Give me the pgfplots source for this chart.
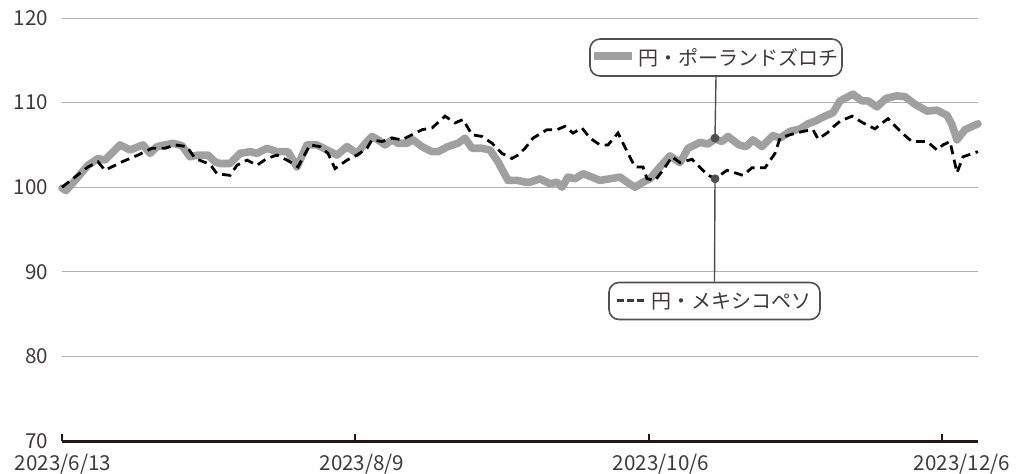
\documentclass[border=0pt]{standalone}
\usepackage{pgfplots}
\pgfplotsset{compat=1.18}
\usepackage{fontspec}
\setmainfont{Noto Sans CJK JP}
\definecolor{zgray}{RGB}{160,160,160}
\definecolor{txt}{RGB}{62,58,57}
\definecolor{gridc}{RGB}{175,175,175}
\definecolor{axc}{RGB}{35,24,21}
\definecolor{callc}{RGB}{80,80,80}
\pgfplotstableread{
x y
0 99.9
4 99.6
13 100.8
26 102.6
36 103.4
43 103.2
58 105.0
68 104.4
81 105.0
88 104.0
95 104.8
103 105.0
111 105.2
120 104.9
128 103.6
136 103.8
146 103.8
153 103.0
158 102.8
168 102.8
178 104.0
188 104.2
195 104.0
205 104.6
215 104.2
226 104.2
235 102.4
245 105.0
255 105.0
265 104.4
275 103.8
285 104.8
295 104.0
305 105.4
310 106.0
316 105.6
323 105.0
330 105.6
336 105.2
345 105.2
351 105.6
360 104.8
370 104.2
376 104.2
386 104.8
396 105.2
403 105.8
410 104.6
420 104.6
428 104.4
436 103.0
446 100.8
456 100.8
463 100.6
468 100.6
478 101.0
488 100.4
495 100.6
500 100.0
506 101.2
513 101.0
521 101.6
530 101.2
538 100.8
548 101.0
558 101.2
565 100.6
573 100.0
581 100.6
588 101.0
598 102.4
608 103.7
618 102.9
626 104.6
638 105.3
646 105.1
653 105.7
660 105.4
666 106.0
677 105.0
684 104.8
691 105.6
700 104.8
711 106.1
718 105.8
728 106.6
738 106.9
746 107.5
753 107.8
761 108.3
771 108.8
778 110.2
791 111.0
800 110.2
806 110.2
815 109.5
824 110.5
835 110.8
843 110.7
853 109.8
865 109.0
875 109.1
885 108.5
890 107.4
895 105.6
903 106.8
916 107.5
}\zloty
\pgfplotstableread{
x y
0 100.0
13 101.2
26 102.4
36 103.0
43 102.0
60 103.0
76 103.8
90 104.6
103 104.6
113 105.0
125 104.8
133 103.4
146 102.8
150 102.4
155 101.6
168 101.4
175 102.6
185 103.2
195 102.6
205 103.4
215 103.8
225 103.2
231 102.8
236 102.4
248 105.0
258 104.8
266 104.0
273 102.2
285 103.2
295 103.8
305 104.6
310 105.6
320 105.4
330 105.8
340 105.6
350 106.2
360 106.8
370 107.0
383 108.4
393 107.6
401 108.0
410 106.2
420 106.0
430 105.2
440 104.0
450 103.4
456 103.8
463 104.6
471 105.8
485 106.8
495 106.8
503 107.2
511 106.4
520 107.0
528 105.8
538 105.0
546 105.0
556 106.4
566 104.0
573 102.4
581 102.4
585 101.0
593 100.8
601 102.0
610 103.6
618 102.9
630 103.3
645 101.5
653 101.0
665 102.0
681 101.4
690 102.3
703 102.3
713 104.0
718 105.8
728 106.2
741 106.6
751 106.8
756 105.7
765 106.4
771 107.1
778 107.8
790 108.4
801 107.6
813 106.9
818 107.4
826 108.1
840 106.4
850 105.4
865 105.4
875 104.4
881 105.0
888 105.4
895 101.7
901 103.6
916 104.2
}\peso
\begin{document}
\begin{tikzpicture}
\path[use as bounding box] (-31pt,-16pt) rectangle (478pt,220.5pt);
\begin{axis}[
  scale only axis, width=458pt, height=211.5pt,
  xmin=0, xmax=916, ymin=70, ymax=120,
  axis x line*=bottom, axis y line*=left,
  y axis line style={draw=none},
  x axis line style={line width=1.5pt, color=axc},
  ytick={70,80,...,120},
  ymajorgrids, grid style={gridc, line width=0.5pt},
  ytick style={draw=none},
  xtick={0,293,587,880}, xticklabels={},
  extra x ticks={1,300,599,900},
  extra x tick labels={2023/6/13,2023/8/9,2023/10/6,2023/12/6},
  extra x tick style={major tick length=0pt, grid=none},
  tick align=inside, major tick length=3.5pt,
  xtick style={line width=0.8pt, color=axc},
  tick label style={font=\fontsize{10.3}{12}\selectfont, color=txt},
  /pgf/number format/assume math mode=true,
  yticklabel style={xshift=-3.5pt},
  xticklabel style={yshift=-3pt},
  clip=false,
]
\addplot[zgray, line width=3.8pt, line join=round, line cap=round] table[x=x,y=y] {\zloty};
\addplot[black, line width=1.4pt, dash pattern=on 4.5pt off 2.8pt] table[x=x,y=y] {\peso};
\node[draw=callc, line width=0.8pt, rounded corners=5pt, fill=white, minimum width=125pt, minimum height=18.5pt, inner sep=2pt, font=\fontsize{10}{12}\selectfont, text=txt] (b1) at (axis cs:654,115.33)
  {{\color{zgray}\rule[0.28em]{19pt}{3.8pt}}\hspace{3pt}円・ポーランドズロチ};
\node[draw=callc, line width=0.8pt, rounded corners=5pt, fill=white, minimum width=105.5pt, minimum height=18.5pt, inner sep=2pt, font=\fontsize{10}{12}\selectfont, text=txt] (b2) at (axis cs:652.5,86.55)
  {\rule[0.3em]{3.4pt}{1.3pt}\hspace{1.6pt}\rule[0.3em]{3.4pt}{1.3pt}\hspace{1.6pt}\rule[0.3em]{3.4pt}{1.3pt}\hspace{4pt}円・メキシコペソ};
\draw[callc, line width=0.7pt] (b1.south) -- (axis cs:653,105.8);
\draw[callc, line width=0.7pt] (axis cs:653,101.0) -- (b2.north);
\addplot[only marks, mark=*, mark size=2pt, color=callc] coordinates {(653,105.8) (653,101.0)};
\end{axis}
\end{tikzpicture}
\end{document}
